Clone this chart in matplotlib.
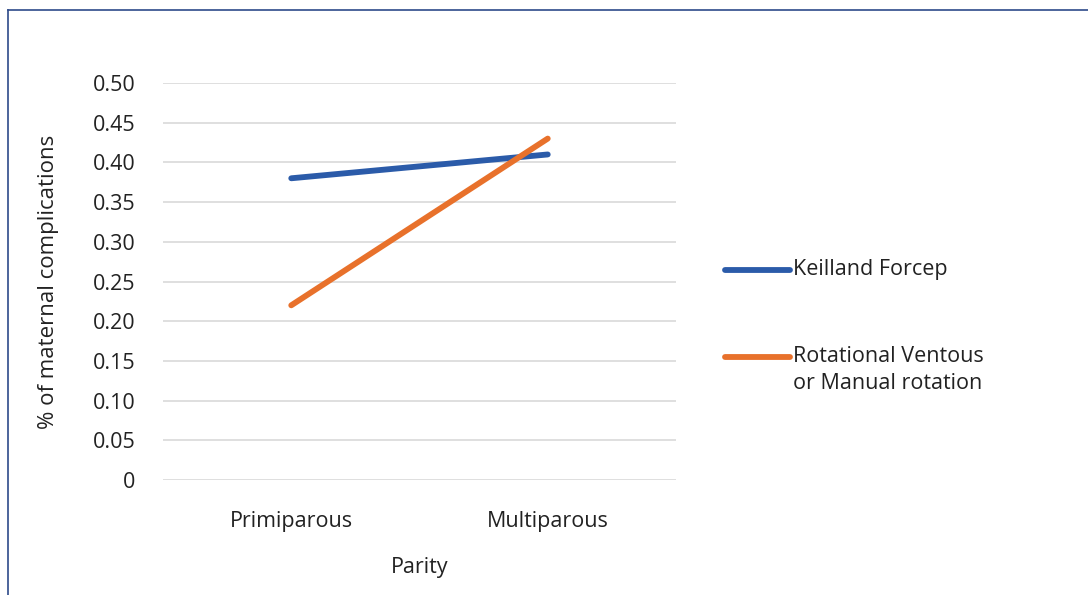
import matplotlib
matplotlib.use("Agg")
import matplotlib.pyplot as plt
from matplotlib.lines import Line2D

plt.rcParams['font.family'] = ['Open Sans', 'DejaVu Sans']

parity = ['Primiparous', 'Multiparous']
keilland_forcep = [0.38, 0.41]
rotational = [0.22, 0.43]
series_names = ['Keilland Forcep', 'Rotational Ventous\nor Manual rotation']
y_ticks = [0, 0.05, 0.10, 0.15, 0.20, 0.25, 0.30, 0.35, 0.40, 0.45, 0.50]
y_tick_labels = ['0', '0.05', '0.10', '0.15', '0.20', '0.25', '0.30', '0.35', '0.40', '0.45', '0.50']

blue = '#2b5ba9'
orange = '#e8712b'

fig = plt.figure(figsize=(10.88, 5.95), dpi=100)
ax = fig.add_axes([163 / 1088, 1 - 480 / 595, 513 / 1088, 397 / 595])

x = range(len(parity))
ax.plot(x, keilland_forcep, color=blue, lw=4.2, solid_capstyle='round')
ax.plot(x, rotational, color=orange, lw=4.2, solid_capstyle='round')

ax.set_xlim(-0.5, 1.5)
ax.set_ylim(0, 0.5)
ax.set_yticks(y_ticks)
ax.set_yticklabels(y_tick_labels)
ax.set_xticks(list(x))
ax.set_xticklabels(parity)
ax.tick_params(length=0, labelsize=15.5, colors='#222222')
ax.tick_params(axis='y', pad=20)
ax.tick_params(axis='x', pad=22)
ax.grid(axis='y', color='#d9d9d9', lw=1.2)
ax.set_axisbelow(True)
for s in ax.spines.values():
    s.set_visible(False)

ax.set_xlabel('Parity', fontsize=15.5, color='#222222', labelpad=18)
ax.set_ylabel('% of maternal complications', fontsize=16, color='#222222', labelpad=24)

# legend drawn by hand so the handle lines up with the first text line
legend_rows = [1 - 270 / 595, 1 - 357 / 595]
for color, name, ly in zip([blue, orange], series_names, legend_rows):
    fig.add_artist(Line2D([725 / 1088, 790 / 1088], [ly, ly], color=color, lw=4.2,
                          solid_capstyle='round'))
    fig.text(793 / 1088, ly + 11 / 595, name, fontsize=15.5, color='#222222',
             va='top', ha='left', linespacing=1.35)

# frame lines along the top and left edge
fig.add_artist(Line2D([8 / 1088, 8 / 1088], [0, 1 - 10 / 595], color='#2e4a8a', lw=1.2))
fig.add_artist(Line2D([8 / 1088, 1], [1 - 10 / 595, 1 - 10 / 595], color='#2e4a8a', lw=1.2))

fig.savefig('out.png', dpi=100)
